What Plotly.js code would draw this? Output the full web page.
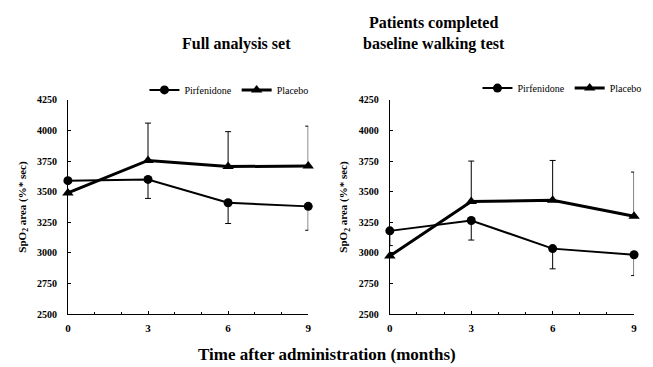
<!DOCTYPE html>
<html><head><meta charset="utf-8">
<script src="https://cdn.plot.ly/plotly-3.0.1.min.js"></script>
<style>html,body{margin:0;padding:0;background:#fff}#c{width:653px;height:367px}</style>
</head><body><div id="c"></div>
<script>
const months = [0, 3, 6, 9];
const xTickVals = [0, 3, 6, 9];
const xTickText = ['0', '3', '6', '9'];
// Full analysis set
const fasPirf = [3590, 3600, 3410, 3380];
const fasPirfErrMinus = [0, 155, 170, 195];
const fasPlac = [3490, 3755, 3705, 3710];
const fasPlacErrPlus = [0, 305, 285, 325];
// Patients completed baseline walking test
const walkPirf = [3180, 3265, 3035, 2985];
const walkPirfErrMinus = [120, 160, 165, 170];
const walkPlac = [2975, 3420, 3430, 3300];
const walkPlacErrPlus = [0, 330, 325, 360];

const fnt = {family: 'Liberation Serif', color: '#000'};
function pirfTrace(y, em, xa, ya, lg) {
  return {x: months, y: y, type: 'scatter', mode: 'lines+markers', name: 'Pirfenidone',
    xaxis: xa, yaxis: ya, legend: lg, cliponaxis: false,
    line: {color: '#000', width: 2}, marker: {symbol: 'circle', size: 9, color: '#000'},
    error_y: {type: 'data', symmetric: false, array: [0,0,0,0], arrayminus: em, color: '#000', thickness: 1, width: 3}};
}
function placTrace(y, ep, xa, ya, lg) {
  return {x: months, y: y, type: 'scatter', mode: 'lines+markers', name: 'Placebo',
    xaxis: xa, yaxis: ya, legend: lg, cliponaxis: false,
    line: {color: '#000', width: 3}, marker: {symbol: 'triangle-up', size: 10, color: '#000'},
    error_y: {type: 'data', symmetric: false, array: ep, arrayminus: [0,0,0,0], color: '#000', thickness: 1, width: 3}};
}
const data = [
  pirfTrace(fasPirf, fasPirfErrMinus, 'x', 'y', 'legend'),
  placTrace(fasPlac, fasPlacErrPlus, 'x', 'y', 'legend'),
  pirfTrace(walkPirf, walkPirfErrMinus, 'x2', 'y2', 'legend2'),
  placTrace(walkPlac, walkPlacErrPlus, 'x2', 'y2', 'legend2')
];
function xax(dom, anchor) {
  return {domain: dom, anchor: anchor, range: [0, 9], tickvals: xTickVals, ticktext: xTickText,
    ticks: 'inside', ticklen: 3, tickcolor: '#000', showline: true, linecolor: '#000', linewidth: 1,
    minor: {dtick: 1, ticks: 'inside', ticklen: 2, tickcolor: '#000', showgrid: false},
    showgrid: false, zeroline: false, ticklabelstandoff: 4, tickfont: Object.assign({size: 11, weight: 700}, fnt)};
}
function yax(dom, anchor) {
  return {domain: dom, anchor: anchor, range: [2500, 4250], dtick: 250, tick0: 2500,
    ticks: 'inside', ticklen: 3, tickcolor: '#000', showline: true, linecolor: '#000', linewidth: 1,
    showgrid: false, zeroline: false, ticklabelstandoff: 8,
    tickfont: Object.assign({size: 10, weight: 700}, fnt),
    title: {text: 'SpO<sub>2</sub> area (%* sec)', standoff: 8, font: Object.assign({size: 11, weight: 700}, fnt)}};
}
const legFont = Object.assign({size: 10}, fnt);
const layout = {
  width: 653, height: 367, margin: {l: 0, r: 0, t: 0, b: 0},
  paper_bgcolor: '#fff', plot_bgcolor: '#fff', showlegend: true,
  xaxis: xax([0.104, 0.472], 'y'),
  yaxis: yax([0.144, 0.728], 'x'),
  xaxis2: xax([0.597, 0.971], 'y2'),
  yaxis2: yax([0.144, 0.728], 'x2'),
  legend: {orientation: 'h', x: 0.48, xanchor: 'right', y: 0.755, yanchor: 'middle', font: legFont,
    bgcolor: 'rgba(0,0,0,0)', itemwidth: 30, tracegroupgap: 0},
  legend2: {orientation: 'h', x: 0.99, xanchor: 'right', y: 0.76, yanchor: 'middle', font: legFont,
    bgcolor: 'rgba(0,0,0,0)', itemwidth: 30, tracegroupgap: 0},
  annotations: [
    {text: 'Full analysis set', xref: 'paper', yref: 'paper', x: 0.276, y: 0.88, yanchor: 'middle', showarrow: false,
      font: Object.assign({size: 16, weight: 700}, fnt)},
    {text: 'Patients completed<br>baseline walking test', xref: 'paper', yref: 'paper', x: 0.777, y: 0.91, yanchor: 'middle', showarrow: false,
      font: Object.assign({size: 16, weight: 700}, fnt)},
    {text: 'Time after administration (months)', xref: 'paper', yref: 'paper', x: 0.5, y: 0.035, yanchor: 'middle', showarrow: false,
      font: Object.assign({size: 17, weight: 700}, fnt)}
  ]
};
Plotly.newPlot('c', data, layout, {displayModeBar: false, staticPlot: true});
</script></body></html>
